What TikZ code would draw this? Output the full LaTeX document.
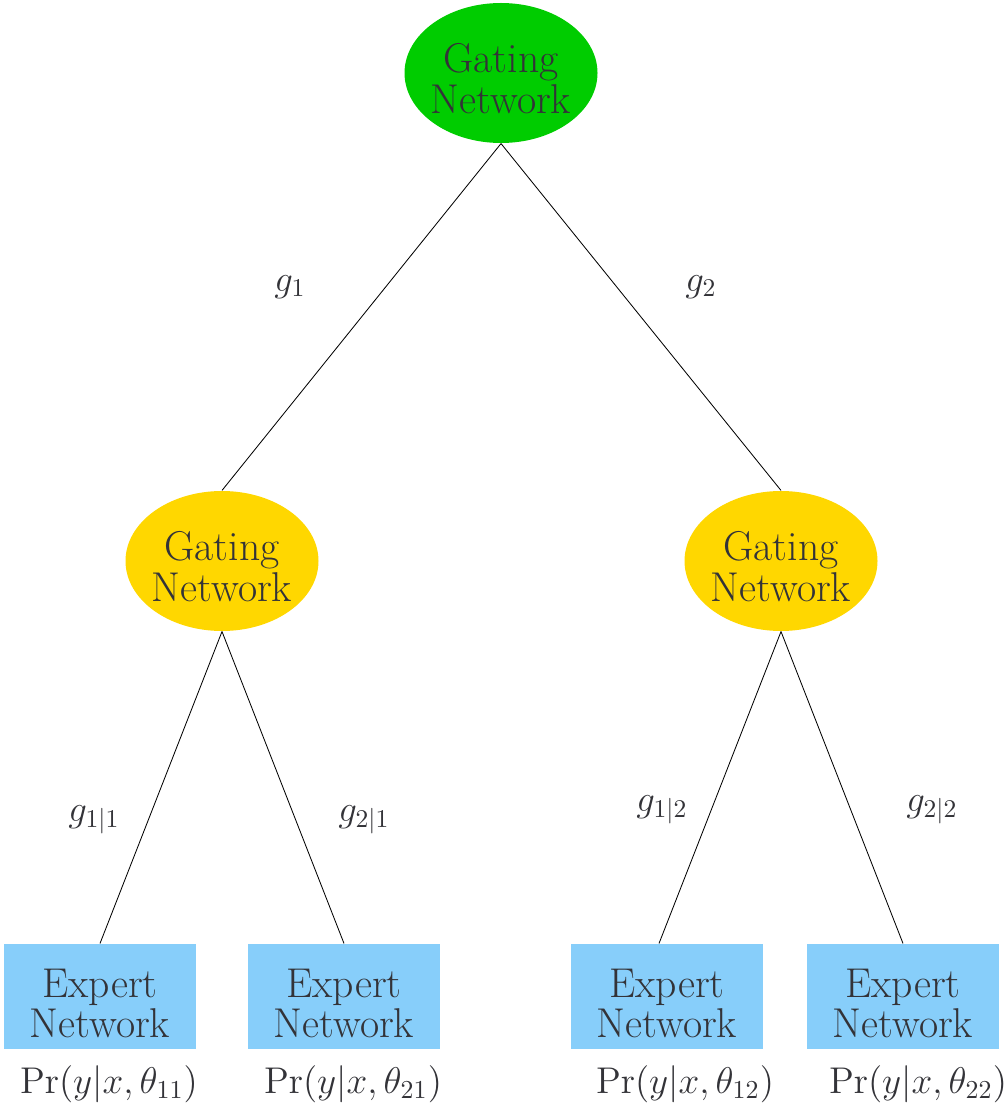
\documentclass[tikz,border=0pt]{standalone}
\usetikzlibrary{shapes.geometric}
\definecolor{txt}{rgb}{0.2,0.2,0.22}
\definecolor{topgreen}{HTML}{00CC00}
\definecolor{midgold}{HTML}{FFD700}
\definecolor{boxblue}{HTML}{87CEFA}
\newcommand{\plab}[1]{\scalebox{0.93}{\Large$#1$}}
\newcommand{\glab}[1]{\scalebox{0.92}{\Large$#1$}}
\begin{document}
\begin{tikzpicture}[x=0.36pt,y=-0.36pt,
  gate/.style={ellipse,inner sep=0pt,minimum width=193*0.36pt,minimum height=140*0.36pt},
  expert/.style={rectangle,inner sep=0pt,fill=boxblue,minimum width=192*0.36pt,minimum height=105*0.36pt},
  inner/.style={text=txt,align=center,inner sep=0pt,font=\fontsize{15}{12.4}\selectfont},
  edge/.style={draw=black,line width=0.3pt},
  elabel/.style={text=txt,inner sep=0pt},
  plabel/.style={text=txt,inner sep=0pt}]
\useasboundingbox (0,0) rectangle (1008,1107);
\node[gate,fill=topgreen] (top) at (501,73) {};
\node[gate,fill=midgold] (ml) at (222,561) {};
\node[gate,fill=midgold] (mr) at (781,561) {};
\node[inner,yshift=-2pt] (topt) at (top) {Gating\\Network};
\node[inner,yshift=-2pt] (mlt) at (ml) {Gating\\Network};
\node[inner,yshift=-2pt] (mrt) at (mr) {Gating\\Network};
\node[expert] (e1) at (100,996.5) {};
\node[expert] (e2) at (344,996.5) {};
\node[expert] (e3) at (667,996.5) {};
\node[expert] (e4) at (903,996.5) {};
\node[inner,yshift=-2.6pt] (e1t) at (e1) {Expert\\Network};
\node[inner,yshift=-2.6pt] (e2t) at (e2) {Expert\\Network};
\node[inner,yshift=-2.6pt] (e3t) at (e3) {Expert\\Network};
\node[inner,yshift=-2.6pt] (e4t) at (e4) {Expert\\Network};
\draw[edge] (top.south) -- (ml.north);
\draw[edge] (top.south) -- (mr.north);
\draw[edge] (ml.south) -- (e1.north);
\draw[edge] (ml.south) -- (e2.north);
\draw[edge] (mr.south) -- ([xshift=-8*0.36pt]e3.north);
\draw[edge] (mr.south) -- (e4.north);
\node[elabel] (l1) at (290,287) {\glab{g_1}};
\node[elabel] (l2) at (701,287) {\glab{g_2}};
\node[elabel] (l11) at (94,820) {\glab{g_{1|1}}};
\node[elabel] (l21) at (364,820) {\glab{g_{2|1}}};
\node[elabel] (l12) at (662,810) {\glab{g_{1|2}}};
\node[elabel] (l22) at (932,810) {\glab{g_{2|2}}};
\node[plabel] (p1) at (109,1084) {\plab{\Pr(y|x,\theta_{11})}};
\node[plabel] (p2) at (353,1084) {\plab{\Pr(y|x,\theta_{21})}};
\node[plabel] (p3) at (685,1084) {\plab{\Pr(y|x,\theta_{12})}};
\node[plabel] (p4) at (918,1084) {\plab{\Pr(y|x,\theta_{22})}};
\end{tikzpicture}
\end{document}
